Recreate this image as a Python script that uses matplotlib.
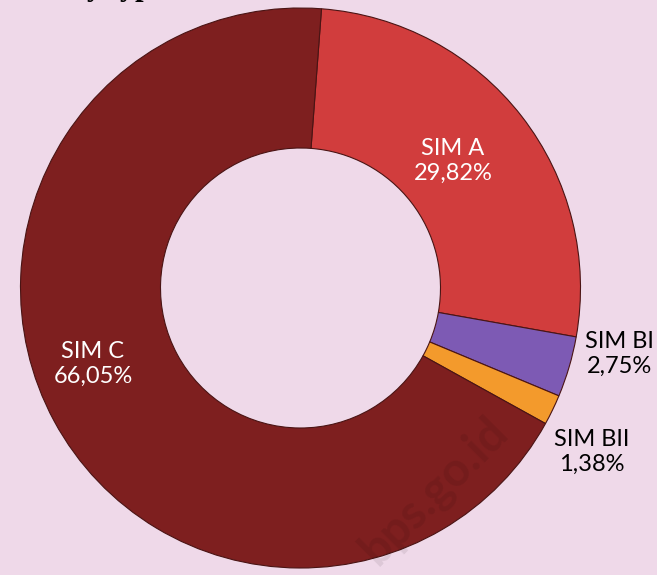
import matplotlib
matplotlib.use("Agg")
import matplotlib.pyplot as plt

# slice shares as drawn in the picture (clockwise from the top)
categories = ["SIM A", "SIM BI", "SIM BII", "SIM C"]
shares = [26.6, 3.5, 1.75, 68.15]
pct_labels = ["29,82%", "2,75%", "1,38%", "66,05%"]
colors = ["#D13D3D", "#7D5AB4", "#F39A2C", "#7E1F1F"]

BG = "#EFD9E9"

fig = plt.figure(figsize=(6.57, 5.75), dpi=100, facecolor=BG)
ax = fig.add_axes([0, 0, 1, 1])
ax.set_facecolor(BG)

wedges, _ = ax.pie(
    shares,
    colors=colors,
    startangle=85.7,
    counterclock=False,
    center=(300.5, 287),
    radius=280,
    frame=True,
    wedgeprops=dict(width=140, edgecolor="#4a1414", linewidth=0.8),
)

ax.set_xlim(0, 657)
ax.set_ylim(0, 575)
ax.set_aspect("equal")
ax.axis("off")

font = ["Lato", "DejaVu Sans"]
label_pos = {
    "SIM A": (453, 414, "white"),
    "SIM C": (93, 211, "white"),
    "SIM BI": (619, 221, "black"),
    "SIM BII": (592, 123, "black"),
}
for name, pct in zip(categories, pct_labels):
    x, y, c = label_pos[name]
    ax.text(x, y, f"{name}\n{pct}", ha="center", va="center", color=c,
            fontsize=17, family=font, linespacing=1.25)

# faint watermark, only seen over the dark ring
wm = ax.text(500, 150, "bps.go.id", rotation=45, rotation_mode="anchor",
             ha="right", va="center", fontsize=34, fontweight="bold",
             family=font, color="black", alpha=0.08)
wm.set_clip_path(wedges[3])

# cropped title: only the descenders remain visible at the top edge
fig.text(70 / 657, 1.0 + 5 / 575, "by type,", ha="left", va="baseline",
         fontsize=22, fontweight="bold", family=["Liberation Serif", "DejaVu Serif"])

fig.savefig("out.png", dpi=100, facecolor=BG)
